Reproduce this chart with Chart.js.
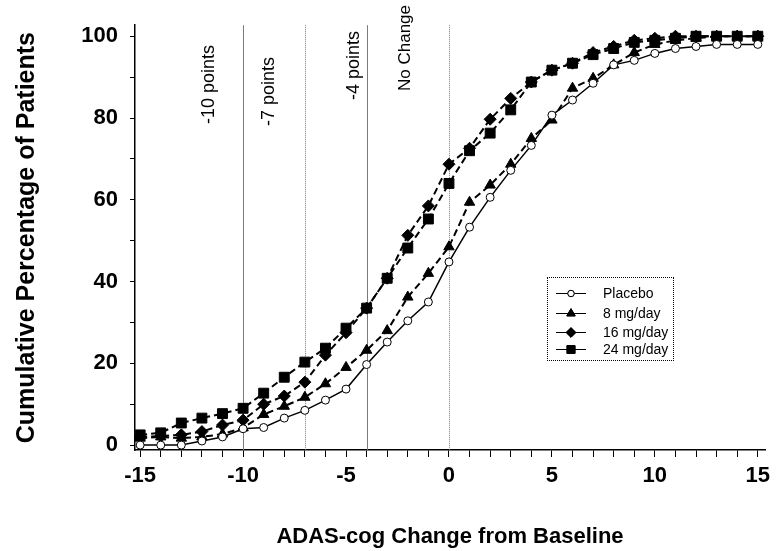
<!DOCTYPE html>
<html>
<head>
<meta charset="utf-8">
<title>ADAS-cog cumulative distribution</title>
<script src="https://cdn.jsdelivr.net/npm/chart.js@4.4.1/dist/chart.umd.min.js"></script>
<style>
html, body { margin: 0; padding: 0; background: #fff; }
#wrap { position: relative; width: 777px; height: 551px; }
#legend {
    position: absolute; left: 547px; top: 277px; width: 127px; height: 84px;
    box-sizing: border-box; border: 1px dotted #000; background: #fff;
    font-family: 'Liberation Sans', Arial, sans-serif; font-size: 14px; color: #000;
}
#legend .row { position: absolute; left: 6px; height: 16px; display: flex; align-items: center; }
</style>
</head>
<body>
<div id="wrap">
    <canvas id="adas" width="777" height="551"></canvas>
    <div id="legend"></div>
</div>
<script>
/* data */
const xValues = [-15, -14, -13, -12, -11, -10, -9, -8, -7, -6, -5, -4, -3, -2, -1, 0,
                 1, 2, 3, 4, 5, 6, 7, 8, 9, 10, 11, 12, 13, 14, 15];
const placebo = [0, 0, 0, 1, 2, 4, 4.3, 6.6, 8.5, 11, 13.7, 19.7, 25.2, 30.4, 35, 44.8,
                 53.3, 60.6, 67.2, 73.3, 80.7, 84.4, 88.5, 93, 94.1, 95.8, 97, 97.5, 98, 98, 98];
const mg8 = [1.7, 2, 1.7, 2, 2.7, 4.2, 7.5, 9.5, 11.7, 15, 19, 23.2, 28, 36.2, 42, 48.5,
             59.4, 63.6, 68.7, 75, 79.5, 87.3, 89.7, 93, 96, 98, 99, 99.5, 100, 100, 100];
const mg16 = [2, 2.2, 2.5, 3.3, 4.9, 6.1, 10, 12, 15.4, 22, 27.5, 33.5, 40.8, 51.3, 58.5, 68.7,
              72.6, 79.7, 84.8, 88.8, 91.7, 93.4, 96, 97.5, 99, 99.5, 100, 100, 100, 100, 100];
const mg24 = [2.5, 3, 5.4, 6.6, 7.7, 9, 12.7, 16.6, 20.3, 23.7, 28.6, 33.5, 40.8, 48.2, 55.3, 64,
              72, 76.3, 82, 88.8, 91.7, 93.4, 95.5, 97, 98.5, 99, 99.5, 100, 100, 100, 100];
const seriesNames = ['Placebo', '8 mg/day', '16 mg/day', '24 mg/day'];
const xTickLabels = [-15, -10, -5, 0, 5, 10, 15];
const yTickLabels = [0, 20, 40, 60, 80, 100];
const yMinorTicks = [0, 10, 20, 30, 40, 50, 60, 70, 80, 90, 100];
const refLines = [-10, -7, -4, 0];
const refLabels = ['-10 points', '-7 points', '-4 points', 'No Change'];

const FONT = "'Liberation Sans', Arial, sans-serif";

/* label placement for the reference lines: offset left of the line, text start y */
const refStyle = [
    { dx: 34, bottom: 124, size: 18, dash: [] },
    { dx: 36, bottom: 126, size: 18, dash: [1, 1] },
    { dx: 13, bottom: 100, size: 18, dash: [] },
    { dx: 44, bottom: 91, size: 17, dash: [1, 1] }
];

const toPoints = arr => xValues.map((x, i) => ({ x: x, y: arr[i] }));

const refLinePlugin = {
    id: 'refLines',
    beforeDatasetsDraw(chart) {
        const { ctx, chartArea, scales: { x } } = chart;
        ctx.save();
        refLines.forEach((v, i) => {
            const px = Math.round(x.getPixelForValue(v)) + 0.5;
            const st = refStyle[i];
            ctx.strokeStyle = '#7a7a7a';
            ctx.lineWidth = 1;
            ctx.setLineDash(st.dash);
            ctx.beginPath();
            ctx.moveTo(px, chartArea.top);
            ctx.lineTo(px, chartArea.bottom);
            ctx.stroke();

            ctx.save();
            ctx.setLineDash([]);
            ctx.translate(px - st.dx, st.bottom);
            ctx.rotate(-Math.PI / 2);
            ctx.font = st.size + 'px ' + FONT;
            ctx.fillStyle = '#000';
            ctx.textAlign = 'left';
            ctx.textBaseline = 'middle';
            ctx.fillText(refLabels[i], 0, 0);
            ctx.restore();
        });
        ctx.restore();
    }
};

const common = { borderColor: '#000', pointBorderColor: '#000', pointBorderWidth: 1,
                 tension: 0, fill: false };

const datasets = [
    Object.assign({}, common, {
        label: seriesNames[0], data: toPoints(placebo), borderWidth: 1.5,
        pointStyle: 'circle', pointRadius: 4, pointBackgroundColor: '#fff', order: 0
    }),
    Object.assign({}, common, {
        label: seriesNames[1], data: toPoints(mg8), borderWidth: 2, borderDash: [7, 4],
        pointStyle: 'triangle', pointRadius: 6, pointBackgroundColor: '#000', order: 1
    }),
    Object.assign({}, common, {
        label: seriesNames[2], data: toPoints(mg16), borderWidth: 2, borderDash: [7, 4],
        pointStyle: 'rectRot', pointRadius: 6, pointBackgroundColor: '#000', order: 2
    }),
    Object.assign({}, common, {
        label: seriesNames[3], data: toPoints(mg24), borderWidth: 2, borderDash: [7, 4],
        pointStyle: 'rect', pointRadius: 7, pointBackgroundColor: '#000', order: 3
    })
];

const chart = new Chart(document.getElementById('adas'), {
    type: 'line',
    data: { datasets: datasets },
    options: {
        responsive: false,
        animation: false,
        layout: { padding: { top: 25, right: 12, left: 0, bottom: 0 } },
        plugins: { legend: { display: false }, tooltip: { enabled: false } },
        scales: {
            x: {
                type: 'linear', min: -15.25, max: 15.35,
                afterBuildTicks: s => { s.ticks = xValues.map(v => ({ value: v })); },
                afterFit: s => { s.height = 101; },
                ticks: {
                    autoSkip: false, maxRotation: 0, padding: 6, color: '#000',
                    font: { family: FONT, size: 22, weight: 'bold' },
                    callback: v => xTickLabels.includes(v) ? String(v) : ''
                },
                grid: { drawOnChartArea: false, tickLength: 7, color: '#000', tickColor: '#000' },
                border: { color: '#000', width: 1.5 },
                title: {
                    display: true, text: 'ADAS-cog Change from Baseline', color: '#000',
                    font: { family: FONT, size: 22, weight: 'bold' },
                    padding: { top: 0, bottom: 1 }
                }
            },
            y: {
                min: -1.2, max: 102.7,
                afterBuildTicks: s => { s.ticks = yMinorTicks.map(v => ({ value: v })); },
                afterFit: s => { s.width = 135; },
                ticks: {
                    autoSkip: false, padding: 12, color: '#000',
                    font: { family: FONT, size: 22, weight: 'bold' },
                    callback: v => yTickLabels.includes(v) ? String(v) : ''
                },
                grid: { drawOnChartArea: false, tickLength: 5, color: '#000', tickColor: '#000' },
                border: { color: '#000', width: 1.5 },
                title: {
                    display: true, text: 'Cumulative Percentage of Patients', color: '#000',
                    font: { family: FONT, size: 25, weight: 'bold' },
                    padding: { top: 12, bottom: 0 }
                }
            }
        }
    },
    plugins: [refLinePlugin]
});

/* legend box drawn as html, marker glyphs with Chart.js' own point drawing */
const legend = document.getElementById('legend');
const rowTops = [7, 27, 46, 63];
datasets.forEach((ds, i) => {
    const row = document.createElement('div');
    row.className = 'row';
    row.style.top = rowTops[i] + 'px';
    const c = document.createElement('canvas');
    c.width = 34; c.height = 16;
    c.style.marginRight = '15px';
    const g = c.getContext('2d');
    g.strokeStyle = '#000';
    g.lineWidth = 1;
    g.beginPath(); g.moveTo(2, 8.5); g.lineTo(32, 8.5); g.stroke();
    g.fillStyle = ds.pointBackgroundColor;
    Chart.helpers.drawPoint(g, {
        pointStyle: ds.pointStyle, radius: ds.pointRadius * 0.8,
        borderWidth: 1, rotation: 0
    }, 17, 8.5);
    g.fill(); g.stroke();
    row.appendChild(c);
    const t = document.createElement('span');
    t.textContent = ds.label;
    row.appendChild(t);
    legend.appendChild(row);
});
</script>
</body>
</html>
